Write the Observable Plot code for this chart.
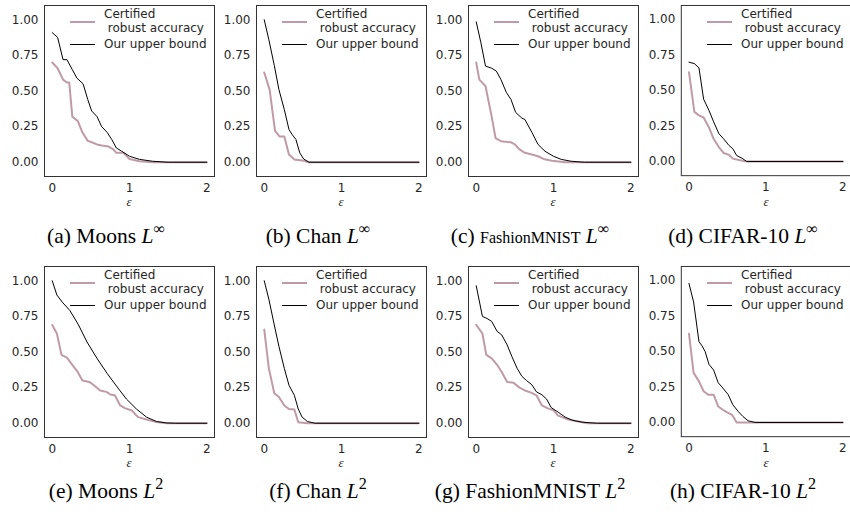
<!DOCTYPE html>
<html><head><meta charset="utf-8">
<script src="https://cdn.jsdelivr.net/npm/d3@7"></script>
<script src="https://cdn.jsdelivr.net/npm/@observablehq/plot@0.6"></script>
<style>
body{margin:0;background:#fff;}
#root{position:relative;width:850px;height:517px;overflow:hidden;font-family:"DejaVu Sans",sans-serif;}
.panel{position:absolute;}
.panel svg{overflow:visible;}
.eps{position:absolute;font-family:"Liberation Serif",serif;font-style:italic;font-size:13px;color:#262626;transform:translate(-50%,-50%);}
.legtxt{position:absolute;font-size:12px;color:#262626;white-space:pre;line-height:14px;}
.legline{position:absolute;width:25px;height:0;}
.cap{position:absolute;font-family:"Liberation Serif",serif;font-size:21.5px;color:#000;transform:translate(-50%,-50%);white-space:nowrap;}
.cap i{font-style:italic;}
.cap sup{font-size:0.75em;vertical-align:0.5em;line-height:0;}
</style>
</head><body>
<div id="root"></div>
<script>
// ----- data: [epsilon, accuracy] pairs -----
const moonsLinfCert = [[0,0.70],[0.07,0.66],[0.14,0.58],[0.19,0.56],[0.22,0.56],[0.26,0.32],[0.33,0.29],[0.39,0.21],[0.46,0.15],[0.51,0.14],[0.58,0.125],[0.64,0.117],[0.73,0.11],[0.79,0.09],[0.83,0.066],[0.92,0.066],[1.0,0.023],[1.13,0.007],[1.3,0],[2,0]];
const moonsLinfUpper = [[0,0.91],[0.07,0.876],[0.14,0.72],[0.19,0.72],[0.26,0.65],[0.32,0.59],[0.40,0.55],[0.46,0.44],[0.51,0.36],[0.58,0.32],[0.64,0.25],[0.71,0.21],[0.77,0.16],[0.83,0.10],[0.9,0.077],[1.0,0.042],[1.13,0.02],[1.3,0.007],[1.5,0],[2,0]];
const chanLinfCert = [[0,0.63],[0.07,0.51],[0.14,0.22],[0.2,0.18],[0.26,0.18],[0.32,0.054],[0.39,0.02],[0.51,0.01],[0.58,0],[2,0]];
const chanLinfUpper = [[0,1.0],[0.06,0.86],[0.13,0.68],[0.19,0.51],[0.26,0.37],[0.32,0.23],[0.36,0.195],[0.41,0.16],[0.46,0.066],[0.51,0.023],[0.58,0],[2,0]];
const fashionLinfCert = [[0,0.70],[0.04,0.58],[0.12,0.535],[0.2,0.32],[0.25,0.17],[0.32,0.148],[0.45,0.14],[0.5,0.125],[0.56,0.09],[0.63,0.066],[0.72,0.054],[0.8,0.042],[0.87,0.023],[0.98,0.01],[1.15,0],[2,0]];
const fashionLinfUpper = [[0,0.985],[0.06,0.84],[0.12,0.675],[0.2,0.66],[0.26,0.64],[0.32,0.58],[0.39,0.49],[0.45,0.44],[0.51,0.35],[0.59,0.31],[0.63,0.30],[0.72,0.21],[0.8,0.125],[0.89,0.077],[1.0,0.042],[1.1,0.02],[1.23,0.007],[1.4,0],[2,0]];
const cifarLinfCert = [[0,0.63],[0.07,0.35],[0.13,0.325],[0.19,0.31],[0.26,0.24],[0.32,0.16],[0.39,0.10],[0.45,0.06],[0.52,0.047],[0.57,0.02],[0.65,0.01],[0.75,0],[2,0]];
const cifarLinfUpper = [[0,0.70],[0.07,0.69],[0.13,0.66],[0.19,0.44],[0.26,0.36],[0.32,0.28],[0.39,0.195],[0.45,0.16],[0.52,0.113],[0.57,0.09],[0.62,0.042],[0.69,0.023],[0.75,0],[2,0]];
const moonsL2Cert = [[0,0.69],[0.06,0.63],[0.12,0.48],[0.19,0.46],[0.26,0.41],[0.33,0.36],[0.39,0.30],[0.48,0.29],[0.54,0.267],[0.62,0.23],[0.7,0.22],[0.76,0.20],[0.81,0.196],[0.88,0.125],[0.94,0.106],[1.03,0.09],[1.11,0.043],[1.22,0.026],[1.35,0.009],[1.48,0],[2,0]];
const moonsL2Upper = [[0,1.0],[0.06,0.90],[0.13,0.85],[0.23,0.79],[0.34,0.69],[0.45,0.57],[0.58,0.455],[0.71,0.35],[0.84,0.255],[0.96,0.17],[1.09,0.10],[1.22,0.043],[1.35,0.012],[1.48,0.002],[1.6,0],[2,0]];
const chanL2Cert = [[0,0.657],[0.06,0.385],[0.13,0.21],[0.19,0.184],[0.26,0.125],[0.32,0.10],[0.39,0.097],[0.44,0.007],[0.56,0],[2,0]];
const chanL2Upper = [[0,1.0],[0.06,0.87],[0.13,0.69],[0.19,0.54],[0.26,0.385],[0.32,0.267],[0.39,0.196],[0.44,0.10],[0.49,0.043],[0.56,0.012],[0.66,0],[2,0]];
const fashionL2Cert = [[0,0.69],[0.08,0.63],[0.13,0.48],[0.2,0.455],[0.27,0.41],[0.33,0.36],[0.4,0.29],[0.48,0.285],[0.56,0.25],[0.63,0.23],[0.71,0.215],[0.78,0.196],[0.85,0.125],[0.92,0.106],[1.0,0.09],[1.06,0.054],[1.19,0.026],[1.32,0.012],[1.44,0],[2,0]];
const fashionL2Upper = [[0,0.965],[0.08,0.75],[0.14,0.735],[0.2,0.715],[0.27,0.645],[0.33,0.62],[0.4,0.55],[0.46,0.47],[0.53,0.385],[0.59,0.33],[0.65,0.30],[0.72,0.27],[0.78,0.22],[0.85,0.20],[0.91,0.17],[0.97,0.11],[1.06,0.078],[1.15,0.043],[1.25,0.02],[1.38,0.007],[1.57,0],[2,0]];
const cifarL2Cert = [[0,0.626],[0.06,0.35],[0.13,0.29],[0.19,0.22],[0.25,0.196],[0.32,0.196],[0.38,0.113],[0.44,0.09],[0.49,0.073],[0.56,0.054],[0.62,0],[2,0]];
const cifarL2Upper = [[0,0.98],[0.06,0.85],[0.13,0.57],[0.17,0.54],[0.21,0.50],[0.26,0.41],[0.32,0.37],[0.38,0.28],[0.44,0.243],[0.51,0.196],[0.57,0.125],[0.64,0.078],[0.7,0.043],[0.77,0.012],[0.86,0],[2,0]];

const captionLetters = ["(a)","(b)","(c)","(d)","(e)","(f)","(g)","(h)"];
const captionDatasets = ["Moons","Chan","FashionMNIST","CIFAR-10","Moons","Chan","FashionMNIST","CIFAR-10"];
const captionNorms = ["∞","∞","∞","∞","2","2","2","2"];
const seriesNames = ["Certified\n robust accuracy","Our upper bound"];
const xTicks = [0,1,2];
const yTicks = [0,0.25,0.5,0.75,1];

const certSeries = [moonsLinfCert,chanLinfCert,fashionLinfCert,cifarLinfCert,moonsL2Cert,chanL2Cert,fashionL2Cert,cifarL2Cert];
const upperSeries = [moonsLinfUpper,chanLinfUpper,fashionLinfUpper,cifarLinfUpper,moonsL2Upper,chanL2Upper,fashionL2Upper,cifarL2Upper];

const PINK = "#c09ba6";
const colX = [0,212,424,637];
const rowY = [0,261];
const capY = [236,491];

const root = document.getElementById("root");
for (let i = 0; i < 8; i++) {
  const col = i % 4, row = Math.floor(i / 4);
  const panel = document.createElement("div");
  panel.className = "panel";
  panel.style.left = colX[col] + "px";
  panel.style.top = rowY[row] + "px";
  const chart = Plot.plot({
    width: 214, height: 215,
    marginLeft: 44, marginRight: 0, marginTop: 5, marginBottom: 39,
    style: {fontFamily: "DejaVu Sans", fontSize: "12px", color: "#262626", background: "transparent"},
    x: {domain: [-0.1, 2.1], ticks: xTicks, tickSize: 0, tickPadding: 7, tickFormat: d3.format("d"), label: null},
    y: {domain: [-0.1, 1.1], ticks: yTicks, tickSize: 0, tickPadding: 6, tickFormat: d3.format(".2f"), label: null},
    marks: [
      Plot.line(certSeries[i], {x: d => d[0], y: d => d[1], stroke: PINK, strokeWidth: 2}),
      Plot.line(upperSeries[i], {x: d => d[0], y: d => d[1], stroke: "#000", strokeWidth: 1}),
      Plot.frame({stroke: "#333", strokeWidth: 1})
    ]
  });
  panel.appendChild(chart);
  const eps = document.createElement("div");
  eps.className = "eps"; eps.textContent = "ε";
  eps.style.left = "129px"; eps.style.top = "202px";
  panel.appendChild(eps);
  const l1 = document.createElement("div"); l1.className = "legline";
  l1.style.left = "70px"; l1.style.top = "21px"; l1.style.borderTop = "2px solid " + PINK;
  const l2 = document.createElement("div"); l2.className = "legline";
  l2.style.left = "70px"; l2.style.top = "44px"; l2.style.borderTop = "1px solid #000";
  const t1 = document.createElement("div"); t1.className = "legtxt";
  t1.style.left = "104px"; t1.style.top = "7px"; t1.textContent = seriesNames[0];
  const t2 = document.createElement("div"); t2.className = "legtxt";
  t2.style.left = "104px"; t2.style.top = "37px"; t2.textContent = seriesNames[1];
  panel.append(l1, l2, t1, t2);
  root.appendChild(panel);
  const cap = document.createElement("div");
  cap.className = "cap";
  cap.style.left = (colX[col] + 106) + "px";
  cap.style.top = capY[row] + "px";
  const ds = (i === 2) ? `<span style="font-size:16px">${captionDatasets[i]}</span>` : captionDatasets[i];
  cap.innerHTML = `${captionLetters[i]} ${ds} <i>L</i><sup>${captionNorms[i]}</sup>`;
  root.appendChild(cap);
}
</script>
</body></html>
